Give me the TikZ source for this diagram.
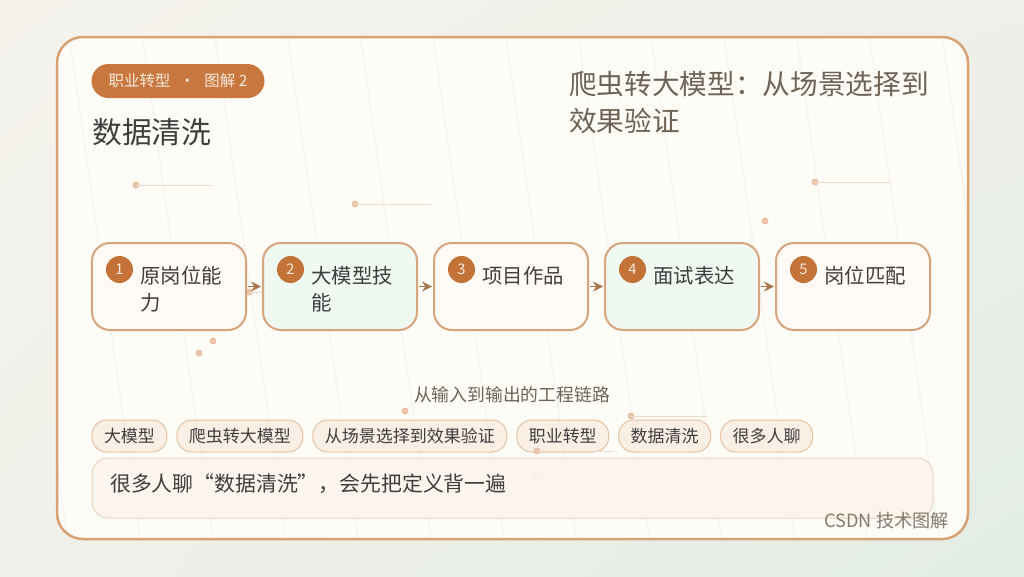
\documentclass[tikz,border=0pt]{standalone}
\usepackage{fontspec}
\setmainfont{Noto Sans CJK SC}
\usetikzlibrary{positioning, calc, arrows.meta, patterns.meta, shadings}
\definecolor{bgwarm}{HTML}{F5F2EC}
\definecolor{bgmint}{HTML}{E3EDE5}
\definecolor{cardfill}{HTML}{FDFCF7}
\definecolor{cardedge}{HTML}{D9A273}
\definecolor{tagfill}{HTML}{C8783F}
\definecolor{tagtext}{HTML}{F9E9DA}
\definecolor{boxedge}{HTML}{D8A47E}
\definecolor{warmfill}{HTML}{FFFAF6}
\definecolor{mintfill}{HTML}{EFF8F1}
\definecolor{numfill}{HTML}{C47338}
\definecolor{chipfill}{HTML}{F9EDE2}
\definecolor{chipedge}{HTML}{E6C2A2}
\definecolor{quotefill}{HTML}{FBF4EC}
\definecolor{quoteedge}{HTML}{EFD2B8}
\definecolor{decodot}{HTML}{E9C3A8}
\definecolor{decoline}{HTML}{ECD9C9}
\definecolor{flowcol}{HTML}{A8764F}
\definecolor{darktext}{HTML}{3E3E3E}
\definecolor{softtext}{HTML}{6E6255}
\definecolor{hatchcol}{HTML}{F3F2EC}
\tikzset{stepbox/.style={draw=boxedge, line width=0.06cm, rounded corners=0.54cm,
    minimum width=4.62cm, minimum height=2.61cm, inner sep=0pt, outer sep=0pt}}
\tikzset{warmbox/.style={stepbox, fill=warmfill}, mintbox/.style={stepbox, fill=mintfill}}
\tikzset{numdot/.style={circle, fill=numfill, text=tagtext, minimum size=0.81cm, inner sep=0pt,
    font=\fontsize{12.5}{14}\selectfont}}
\tikzset{steplabel/.style={anchor=north west, align=left, inner sep=0pt, text=darktext,
    font=\fontsize{17.4}{23}\selectfont}}
\tikzset{flow/.style={-{Stealth[length=0.3cm, width=0.3cm]}, flowcol, line width=0.05cm,
    shorten <=0.06cm, shorten >=0.06cm}}
\tikzset{chip/.style={draw=chipedge, line width=0.03cm, fill=chipfill, fill opacity=0.85, text opacity=1,
    rounded corners=0.45cm, minimum height=0.96cm, inner xsep=0.36cm, inner ysep=0pt, outer sep=0pt,
    text=darktext, font=\fontsize{14.5}{16}\selectfont}}
\tikzset{deco/.style={fill=decodot}, decoseg/.style={draw=decoline, line width=0.03cm}}

\begin{document}
\begin{tikzpicture}[x=0.03cm, y=-0.03cm]
  \useasboundingbox (0,0) rectangle (1024,576);
  \shade[upper left=bgwarm, upper right=bgwarm!60!bgmint, lower left=bgwarm!70!bgmint, lower right=bgmint]
    (0,0) rectangle (1024,576);

  % card with faint slanted lines
  \fill[cardfill, rounded corners=0.78cm] (57,37) rectangle (968,539);
  \fill[rounded corners=0.78cm, pattern={Lines[angle=98, distance=2.16cm, line width=0.03cm]},
    pattern color=hatchcol] (57,37) rectangle (968,539);
  \draw[cardedge, line width=0.075cm, rounded corners=0.78cm] (57,37) rectangle (968,539);

  % decoration
  \fill[deco] (136,185) circle (3.5);  \draw[decoseg] (136,185) -- (212,185);
  \fill[deco] (355,204) circle (3.5);  \draw[decoseg] (355,204) -- (431,204);
  \fill[deco] (815,182) circle (3.5);  \draw[decoseg] (815,182) -- (890,182);
  \fill[deco] (765,221) circle (3.5);
  \fill[deco] (249,292) circle (3.5);  \draw[decoseg] (249,292) -- (325,292);
  \fill[deco] (213,341) circle (3.5);
  \fill[deco] (199,353) circle (3.5);
  \fill[deco] (405,411) circle (3.5);
  \fill[deco] (631,416) circle (3.5);  \draw[decoseg] (631,416) -- (707,416);

  \node[fill=tagfill, text=tagtext, rounded corners=0.51cm, minimum width=5.19cm, minimum height=1.02cm,
    inner sep=0pt, font=\fontsize{13.2}{15}\selectfont] (tag) at (178,81)
    {职业转型\hspace{0.6em}·\hspace{0.6em}图解 2};
  \node[anchor=west, inner sep=0pt, text=darktext, font=\fontsize{25.5}{28}\selectfont] (title)
    at (92,132) {数据清洗};
  \node[anchor=north west, align=left, inner sep=0pt, text=softtext, font=\fontsize{23.6}{31.5}\selectfont]
    (subtitle) at (569,71) {爬虫转大模型：从场景选择到\\效果验证};

  % steps
  \node[warmbox] (s1) at (169,286.5) {};
  \node[mintbox] (s2) [right=0.51cm of s1] {};
  \node[warmbox] (s3) [right=0.51cm of s2] {};
  \node[mintbox] (s4) [right=0.51cm of s3] {};
  \node[warmbox] (s5) [right=0.51cm of s4] {};

  \node[numdot] (n1) at ($(s1.north west)+(27.5,26.5)$) {1};
  \node[numdot] (n2) at ($(s2.north west)+(27.5,26.5)$) {2};
  \node[numdot] (n3) at ($(s3.north west)+(27.5,26.5)$) {3};
  \node[numdot] (n4) at ($(s4.north west)+(27.5,26.5)$) {4};
  \node[numdot] (n5) at ($(s5.north west)+(27.5,26.5)$) {5};

  \node[steplabel] (l1) at ($(s1.north west)+(48,23)$) {原岗位能\\力};
  \node[steplabel] (l2) at ($(s2.north west)+(48,23)$) {大模型技\\能};
  \node[steplabel] (l3) at ($(s3.north west)+(48,23)$) {项目作品};
  \node[steplabel] (l4) at ($(s4.north west)+(48,23)$) {面试表达};
  \node[steplabel] (l5) at ($(s5.north west)+(48,23)$) {岗位匹配};

  \draw[flow] (s1) -- (s2);
  \draw[flow] (s2) -- (s3);
  \draw[flow] (s3) -- (s4);
  \draw[flow] (s4) -- (s5);

  \node[text=softtext, inner sep=0pt, font=\fontsize{15.2}{17}\selectfont] (caption) at (512,395)
    {从输入到输出的工程链路};

  % keyword chips
  \node[chip, anchor=west] (c1) at (92,436) {大模型};
  \node[chip] (c2) [right=0.3cm of c1] {爬虫转大模型};
  \node[chip] (c3) [right=0.3cm of c2] {从场景选择到效果验证};
  \node[chip] (c4) [right=0.3cm of c3] {职业转型};
  \node[chip] (c5) [right=0.3cm of c4] {数据清洗};
  \node[chip] (c6) [right=0.3cm of c5] {很多人聊};
  \fill[deco] (537,451) circle (3.5);  \draw[decoseg] (537,451) -- (613,451);
  \fill[deco, opacity=0.5] (534,476) circle (3.5);

  \draw[quoteedge, line width=0.03cm, fill=quotefill, fill opacity=0.8, rounded corners=0.48cm]
    (92,458) rectangle (933,518);
  \node[anchor=west, inner sep=0pt, text=darktext, font=\fontsize{17.8}{20}\selectfont] (quote)
    at (110,484) {很多人聊“数据清洗”，会先把定义背一遍};

  \node[anchor=east, inner sep=0pt, text=softtext!85, font=\fontsize{15.5}{17}\selectfont] (brand)
    at (949,521) {CSDN 技术图解};
\end{tikzpicture}
\end{document}
